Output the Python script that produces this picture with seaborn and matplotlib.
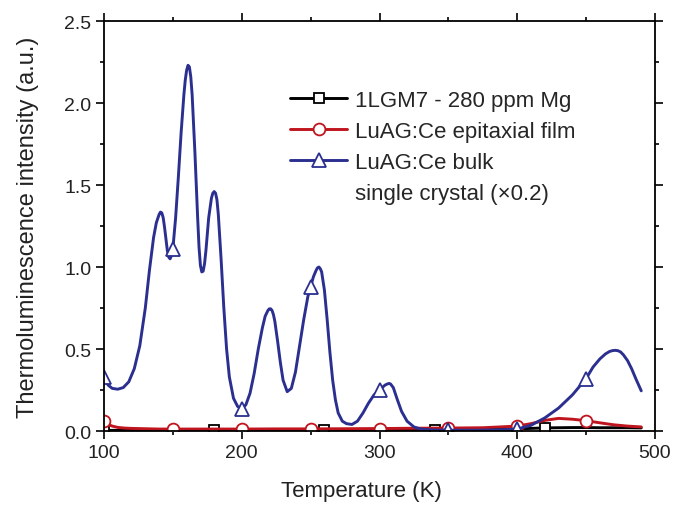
import numpy as np
import pandas as pd
import matplotlib
matplotlib.use("Agg")
import matplotlib.pyplot as plt
import seaborn as sns
from matplotlib.ticker import MultipleLocator

# Data
temp_mg = [100, 120, 140, 160, 180, 200, 220, 240, 260, 280, 300, 320, 340, 360,
           380, 400, 410, 420, 430, 440, 450, 460, 470, 480, 490]
tl_mg = [0.004, 0.004, 0.004, 0.004, 0.005, 0.005, 0.005, 0.005, 0.006, 0.006, 0.006, 0.007, 0.008, 0.009,
         0.011, 0.013, 0.016, 0.019, 0.02, 0.021, 0.021, 0.02, 0.02, 0.02, 0.019]

temp_film = [100, 103, 106, 110, 115, 120, 130, 140, 150, 175, 200, 225, 250, 275,
             300, 325, 350, 375, 400, 410, 420, 430, 440, 450, 460, 470, 480, 490]
tl_film = [0.06, 0.04, 0.03, 0.022, 0.018, 0.016, 0.014, 0.012, 0.012, 0.012, 0.012, 0.013, 0.013, 0.014,
           0.015, 0.017, 0.018, 0.02, 0.03, 0.045, 0.065, 0.077, 0.072, 0.063, 0.05, 0.038, 0.03, 0.025]

temp_bulk = [100, 103, 106, 110, 114, 118, 122, 126, 130, 133, 136, 138, 140, 141, 142, 143, 144, 145, 146, 147, 148,
             149, 150, 152, 154, 156, 158, 159, 160, 161, 162, 163, 164, 166, 168, 169, 170, 171, 172, 173, 174, 176,
             178, 179, 180, 181, 182, 183, 185, 187, 189, 191, 194, 197, 200, 203, 206, 209, 212, 215,
             217, 219, 220, 221, 222, 223, 224, 226, 228, 230, 233, 236, 239, 242, 245, 248, 250, 252, 254,
             255, 256, 257, 258, 260, 262, 264, 266, 268, 270, 273, 276, 280, 284, 288, 292, 296, 300,
             302, 304, 306, 307, 308, 310, 313, 316, 320, 325, 330, 340, 350, 360, 370, 380, 390, 400,
             410, 420, 425, 430, 435, 440, 445, 450, 455, 460, 464, 467, 469, 471, 473, 475, 477, 480,
             483, 486, 490]
tl_bulk = [0.33, 0.28, 0.26, 0.255, 0.265, 0.3, 0.38, 0.52, 0.75, 0.98, 1.18, 1.27, 1.32, 1.335, 1.33, 1.3, 1.24, 1.17, 1.1, 1.06, 1.05,
           1.07, 1.11, 1.3, 1.55, 1.82, 2.05, 2.14, 2.2, 2.23, 2.22, 2.16, 2.05, 1.7, 1.3, 1.12, 1.01, 0.97, 0.975, 1.02, 1.1, 1.3,
           1.42, 1.45, 1.46, 1.45, 1.41, 1.32, 1.05, 0.75, 0.5, 0.33, 0.2, 0.15, 0.135, 0.16, 0.23, 0.35, 0.5, 0.63,
           0.7, 0.735, 0.745, 0.745, 0.735, 0.71, 0.67, 0.55, 0.42, 0.31, 0.24, 0.26, 0.36, 0.52, 0.68, 0.82, 0.88, 0.94, 0.98,
           0.995, 1.0, 0.99, 0.97, 0.86, 0.68, 0.48, 0.31, 0.19, 0.11, 0.06, 0.045, 0.04, 0.06, 0.11, 0.17, 0.22, 0.25,
           0.265, 0.28, 0.288, 0.29, 0.287, 0.265, 0.19, 0.12, 0.06, 0.025, 0.012, 0.006, 0.005, 0.005, 0.005, 0.006, 0.008, 0.012,
           0.035, 0.08, 0.11, 0.14, 0.18, 0.22, 0.27, 0.32, 0.39, 0.44, 0.47, 0.485, 0.49, 0.492, 0.49, 0.482, 0.465, 0.43,
           0.38, 0.32, 0.245]

marks_mg = [100, 180, 260, 340, 420]
marks_film = [100, 150, 200, 250, 300, 350, 400, 450]
marks_bulk = [100, 150, 200, 250, 300, 350, 400, 450]

sns.set_style("ticks")
plt.rcParams['font.family'] = ['Liberation Sans', 'DejaVu Sans']

fig = plt.figure(figsize=(6.73, 5.06), dpi=100)
ax = fig.add_axes([0.1545, 0.1462, 0.8188, 0.8103])

series = [
    (temp_mg, tl_mg, marks_mg, 's', 'black', 7, '1LGM7 - 280 ppm Mg'),
    (temp_film, tl_film, marks_film, 'o', '#c0141e', 8.5, 'LuAG:Ce epitaxial film'),
    (temp_bulk, tl_bulk, marks_bulk, '^', '#2b2f8f', 9.5, 'LuAG:Ce bulk'),
]
for t, v, marks, mk, col, ms, lab in series:
    idx = [i for i, x in enumerate(t) if x in marks]
    sns.lineplot(x=t, y=v, ax=ax, color=col, lw=2.1, marker=mk, markevery=idx, ms=ms,
                 mfc='white', mec=col, mew=1.3, label=lab)
ax.plot([], [], color='none', label='single crystal (×0.2)')

ax.set_xlim(100, 500)
ax.set_ylim(0, 2.5)
ax.xaxis.set_major_locator(MultipleLocator(100))
ax.xaxis.set_minor_locator(MultipleLocator(50))
ax.yaxis.set_major_locator(MultipleLocator(0.5))
ax.yaxis.set_minor_locator(MultipleLocator(0.25))
ax.yaxis.set_major_formatter(matplotlib.ticker.FormatStrFormatter('%.1f'))
ax.tick_params(which='both', direction='out', top=True, right=True, width=1.2, color='black',
               labelsize=14, labelcolor='#222222')
ax.tick_params(which='major', length=5.5)
ax.tick_params(which='minor', length=3)
for s in ax.spines.values():
    s.set_visible(True)
    s.set_linewidth(1.3)
    s.set_color('black')

ax.set_xlabel('Temperature (K)', fontsize=16, color='#222222', labelpad=14)
ax.xaxis.label.set_x(0.468)
ax.set_ylabel('Thermoluminescence intensity (a.u.)', fontsize=17, color='#222222', labelpad=18)

ax.legend(loc='upper left', bbox_to_anchor=(0.318, 0.86), frameon=False, fontsize=16,
          borderpad=0, handlelength=2.57, handletextpad=0.32, labelspacing=0.45)

fig.savefig('out.png', dpi=100)
